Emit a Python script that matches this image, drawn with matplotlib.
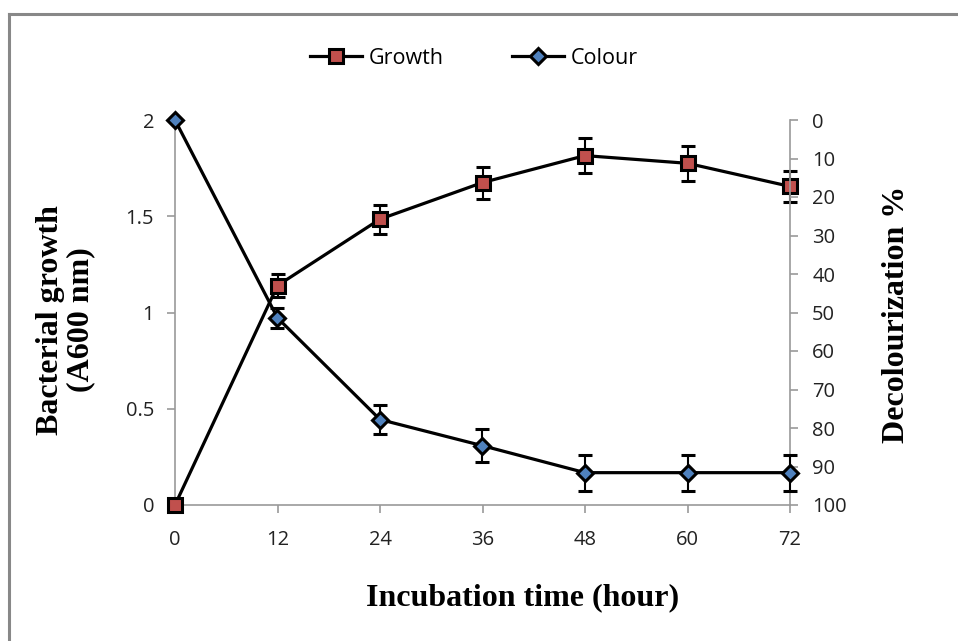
import matplotlib
matplotlib.use("Agg")
import matplotlib.pyplot as plt
from matplotlib.lines import Line2D

hours = [0, 12, 24, 36, 48, 60, 72]
growth = [0.0, 1.14, 1.485, 1.675, 1.815, 1.775, 1.655]
growth_err = [0.0, 0.06, 0.075, 0.083, 0.09, 0.09, 0.08]
colour = [0.0, 51.4, 77.8, 84.6, 91.6, 91.6, 91.6]
colour_err = [0.0, 2.6, 3.8, 4.3, 4.7, 4.7, 4.7]
left_ticks = [0, 0.5, 1, 1.5, 2]
left_labels = ["0", "0.5", "1", "1.5", "2"]
right_ticks = [0, 10, 20, 30, 40, 50, 60, 70, 80, 90, 100]

GRAY = "#9a9a9a"
RED = "#c0504d"
BLUE = "#4f81bd"
tick_font = "Open Sans"
label_font = "Liberation Serif"
TICK_SIZE = 14.5

fig = plt.figure(figsize=(9.58, 6.41), dpi=100)
ax = fig.add_axes([175/958, 1-505/641, (790-175)/958, (505-120)/641])
ax2 = ax.twinx()

ax.set_xlim(0, 72)
ax.set_ylim(0, 2)
ax2.set_ylim(100, 0)

ax.errorbar(hours, growth, yerr=growth_err, color="black", lw=2.3,
            marker="s", ms=10, mfc=RED, mec="black", mew=2.2,
            ecolor="black", elinewidth=1.5, capsize=5, capthick=1.5,
            clip_on=False, zorder=3)
ax2.errorbar(hours, colour, yerr=colour_err, color="black", lw=2.3,
             marker="D", ms=8, mfc=BLUE, mec="black", mew=2.2,
             ecolor="black", elinewidth=1.5, capsize=5, capthick=1.5,
             clip_on=False, zorder=3)

ax.set_xticks(hours)
ax.set_xticklabels([str(h) for h in hours], fontfamily=tick_font, fontsize=TICK_SIZE)
ax.set_yticks(left_ticks)
ax.set_yticklabels(left_labels, fontfamily=tick_font, fontsize=TICK_SIZE)
ax2.set_yticks(right_ticks)
ax2.set_yticklabels([str(t) for t in right_ticks], fontfamily=tick_font, fontsize=TICK_SIZE)

for a in (ax, ax2):
    a.spines["top"].set_visible(False)
    for s in ("left", "right", "bottom"):
        a.spines[s].set_color(GRAY)
        a.spines[s].set_linewidth(1.2)
    a.tick_params(colors=GRAY, labelcolor="#222222", width=1.2, length=6, pad=8)
ax2.spines["left"].set_visible(False)
ax2.spines["bottom"].set_visible(False)
ax.spines["right"].set_visible(False)
ax.tick_params(axis="x", pad=12)
ax.tick_params(axis="y", pad=9)
ax2.tick_params(axis="y", pad=10)

fig.text(523/958, 1-598/641, "Incubation time (hour)", ha="center", va="center",
         fontfamily=label_font, fontweight="bold", fontsize=23)
fig.text(66/958, 1-320/641, "Bacterial growth\n(A600 nm)", rotation=90,
         ha="center", va="center", fontfamily=label_font, fontweight="bold",
         fontsize=23, linespacing=1.05)
fig.text(896/958, 1-314/641, "Decolourization %", rotation=90,
         ha="center", va="center", fontfamily=label_font, fontweight="bold",
         fontsize=23)

handles = [
    Line2D([], [], color="black", lw=2.3, marker="s", ms=10, mfc=RED, mec="black", mew=2.2),
    Line2D([], [], color="black", lw=2.3, marker="D", ms=8, mfc=BLUE, mec="black", mew=2.2),
]
fig.legend(handles, ["Growth", "Colour"], loc="center", bbox_to_anchor=(474/958, 1-58/641),
           ncol=2, frameon=False, prop={"family": tick_font, "size": 15.5},
           handlelength=2.4, columnspacing=3.2, handletextpad=0.3)

# outer chart border (top and left visible)
fig.add_artist(Line2D([9/958, 1], [1-14/641, 1-14/641], transform=fig.transFigure,
                      color="#888888", lw=2.2))
fig.add_artist(Line2D([9/958, 9/958], [0, 1-14/641], transform=fig.transFigure,
                      color="#888888", lw=2.2))

fig.savefig("out.png", dpi=100)
